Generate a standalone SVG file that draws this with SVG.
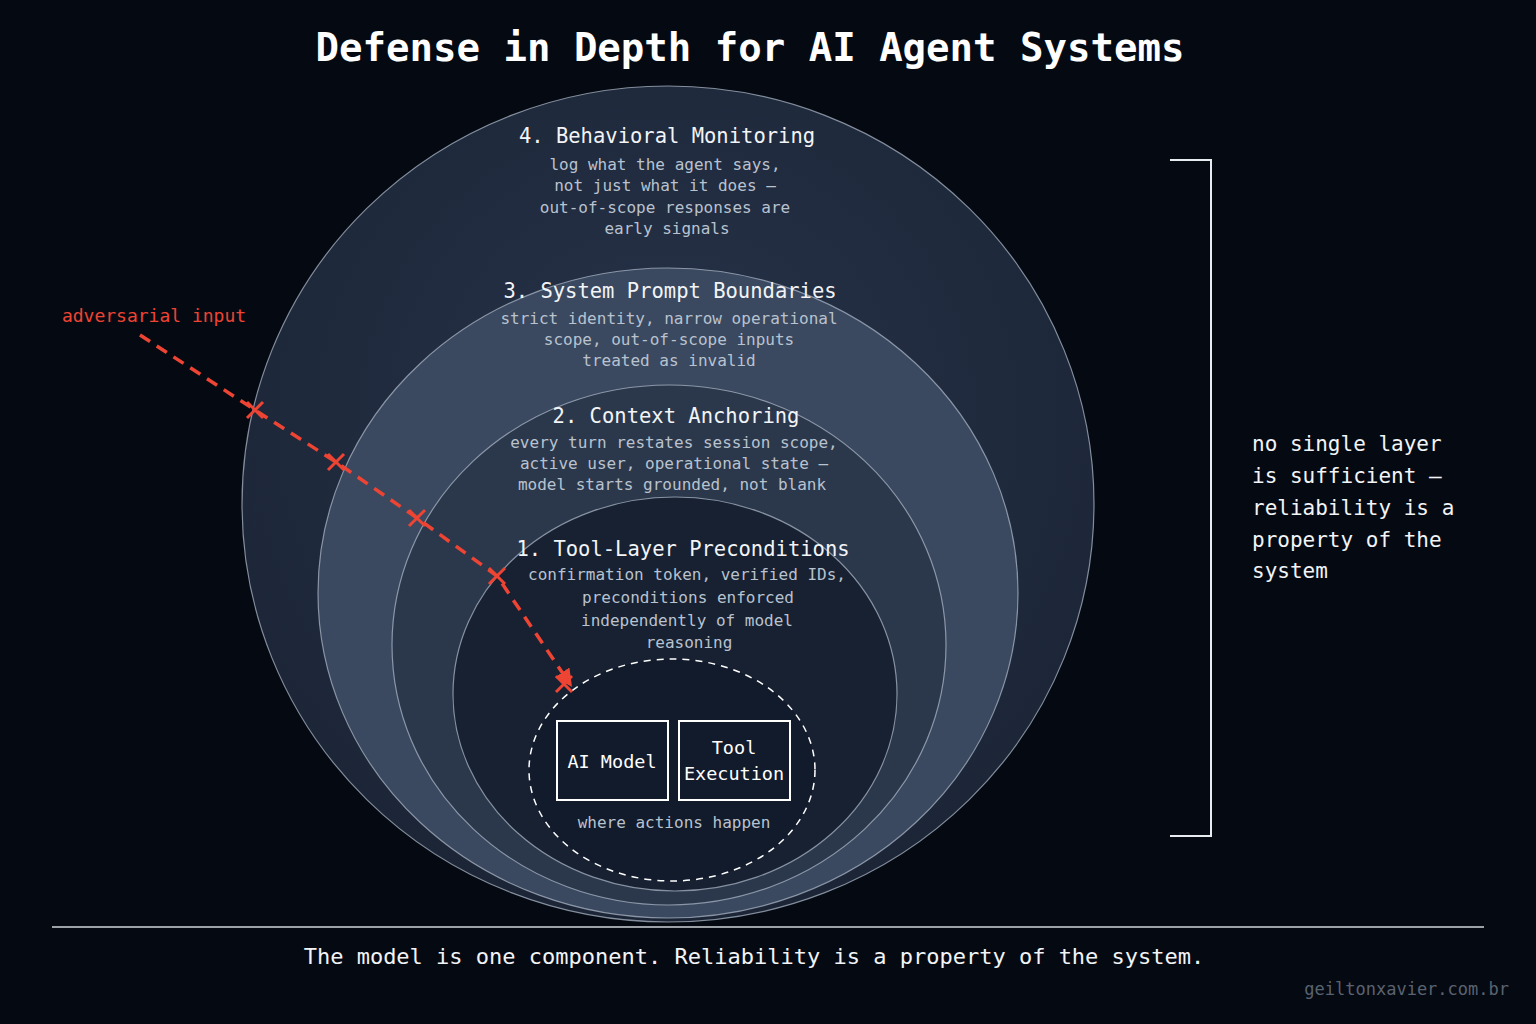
<svg xmlns="http://www.w3.org/2000/svg" width="1536" height="1024" viewBox="0 0 1536 1024">
<defs>
<style>
text{font-family:"DejaVu Sans Mono","Liberation Mono",monospace;text-anchor:middle}
.h{fill:#f2f4f7;font-size:20.5px}
.b{fill:#b9c2cf;font-size:16px}
.ring{stroke:#aab4c4;stroke-width:1.2;stroke-opacity:.75}
.x{stroke:#ee4433;stroke-width:3;fill:none}
.box{fill:none;stroke:#ffffff;stroke-width:2}
.bt{font-size:18.5px;fill:#fff}
</style>
<radialGradient id="g4" cx="0.5" cy="0.4" r="0.6"><stop offset="0" stop-color="#27334a"/><stop offset="1" stop-color="#1b2536"/></radialGradient>
<marker id="ah" viewBox="0 0 10 10" refX="8" refY="5" markerWidth="5" markerHeight="5" orient="auto"><path d="M0,0 L10,5 L0,10 z" fill="#ee4433"/></marker>
</defs>
<rect width="1536" height="1024" fill="#050a12"/>
<text x="750" y="61" style="font-size:39px;font-weight:bold;fill:#fff">Defense in Depth for AI Agent Systems</text>

<g id="layer4"><ellipse class="ring" cx="668" cy="504" rx="426" ry="418" fill="url(#g4)"/>
<text class="h" x="667" y="143">4. Behavioral Monitoring</text>
<text class="b" x="665" y="170">log what the agent says,</text>
<text class="b" x="665" y="191">not just what it does —</text>
<text class="b" x="665" y="213">out-of-scope responses are</text>
<text class="b" x="667" y="234">early signals</text></g>
<g id="layer3"><ellipse class="ring" cx="668" cy="593" rx="350" ry="325" fill="#3a4960"/>
<text class="h" x="670" y="298">3. System Prompt Boundaries</text>
<text class="b" x="669" y="324">strict identity, narrow operational</text>
<text class="b" x="669" y="345">scope, out-of-scope inputs</text>
<text class="b" x="669" y="366">treated as invalid</text></g>
<g id="layer2"><ellipse class="ring" cx="669" cy="645" rx="277" ry="260" fill="#2b384c"/>
<text class="h" x="676" y="423">2. Context Anchoring</text>
<text class="b" x="674" y="448">every turn restates session scope,</text>
<text class="b" x="674" y="469">active user, operational state —</text>
<text class="b" x="672" y="490">model starts grounded, not blank</text></g>
<g id="layer1"><ellipse class="ring" cx="675" cy="694" rx="222" ry="197" fill="#172132"/>
<text class="h" x="683" y="556">1. Tool-Layer Preconditions</text>
<text class="b" x="687" y="580">confirmation token, verified IDs,</text>
<text class="b" x="688" y="603">preconditions enforced</text>
<text class="b" x="687" y="626">independently of model</text>
<text class="b" x="689" y="648">reasoning</text></g>
<g id="core"><ellipse cx="672" cy="770" rx="143" ry="111" fill="#121b2b" stroke="#ffffff" stroke-width="1.5" stroke-dasharray="7,6"/>
<text class="b" x="674" y="828">where actions happen</text></g>
<g id="aimodel"><rect class="box" x="557" y="721" width="111" height="79"/><text class="bt" x="612" y="768">AI Model</text></g>
<g id="toolexec"><rect class="box" x="679" y="721" width="111" height="79"/><text class="bt" x="734" y="754">Tool</text><text class="bt" x="734" y="780">Execution</text></g>

<g id="connectors">
<text x="154" y="322" style="font-size:18px;fill:#ee4433">adversarial input</text>
<polyline points="140,335 255,410 336,462 417,518 497,576 570,684" fill="none" stroke="#ee4433" stroke-width="3.5" stroke-dasharray="12,8" marker-end="url(#ah)"/>
<path class="x" d="M247,402 l16,16 M263,402 l-16,16 M328,454 l16,16 M344,454 l-16,16 M409,510 l16,16 M425,510 l-16,16 M489,568 l16,16 M505,568 l-16,16 M556,676 l16,16 M572,676 l-16,16"/>
<path d="M1170,160 H1211 V836 H1170" fill="none" stroke="#e8ecf0" stroke-width="2"/>
</g>
<g id="note" style="font-size:21px;fill:#f2f4f7">
<text x="1252" y="451" style="text-anchor:start">no single layer</text>
<text x="1252" y="483" style="text-anchor:start">is sufficient —</text>
<text x="1252" y="515" style="text-anchor:start">reliability is a</text>
<text x="1252" y="547" style="text-anchor:start">property of the</text>
<text x="1252" y="578" style="text-anchor:start">system</text>
</g>
<line x1="52" y1="927" x2="1484" y2="927" stroke="#cfd4da" stroke-width="1.5"/>
<text x="754" y="964" style="font-size:22px;fill:#f2f4f7">The model is one component. Reliability is a property of the system.</text>
<text x="1509" y="995" style="font-size:17px;fill:#5a6270;text-anchor:end">geiltonxavier.com.br</text>
</svg>
